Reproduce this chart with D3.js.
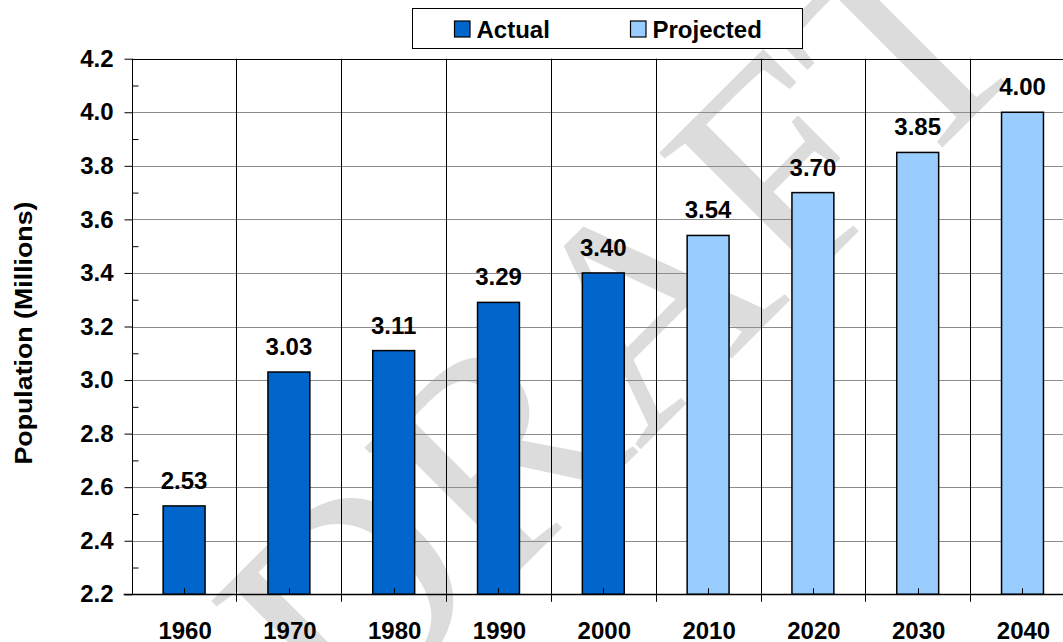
<!DOCTYPE html>
<html>
<head>
<meta charset="utf-8">
<script src="https://cdn.jsdelivr.net/npm/d3@7"></script>
<style>
  html, body { margin: 0; padding: 0; background: #fff; }
  svg text { font-family: "Liberation Sans", Arial, sans-serif; }
</style>
</head>
<body>
<div id="chart"></div>
<script>
// population, millions
var years = ["1960", "1970", "1980", "1990", "2000", "2010", "2020", "2030", "2040"];
var population = [2.53, 3.03, 3.11, 3.29, 3.40, 3.54, 3.70, 3.85, 4.00];
var kind = ["Actual", "Actual", "Actual", "Actual", "Actual", "Projected", "Projected", "Projected", "Projected"];
var seriesNames = ["Actual", "Projected"];
var yMajor = [2.2, 2.4, 2.6, 2.8, 3.0, 3.2, 3.4, 3.6, 3.8, 4.0, 4.2];
var yMinor = [2.3, 2.5, 2.7, 2.9, 3.1, 3.3, 3.5, 3.7, 3.9, 4.1];

var W = 1063, H = 642;
var plot = {left: 131.7, top: 58.7, bottom: 594.3, step: 104.8};
var colors = {Actual: "#0066cc", Projected: "#99ccff"};
var fs = "24px";

var svg = d3.select("#chart").append("svg")
    .attr("width", W).attr("height", H);

svg.append("rect").attr("width", W).attr("height", H).style("fill", "#fff");

// DRAFT watermark sits behind everything
svg.append("text")
    .attr("transform", "translate(344,746) rotate(-45)")
    .style("font-family", "Liberation Serif, Times New Roman, serif")
    .style("font-size", "300px")
    .style("fill", "#dcdcdc")
    .text("DRAFT");

var x = d3.scaleBand()
    .domain(years)
    .range([plot.left, plot.left + plot.step * years.length])
    .paddingInner(0).paddingOuter(0);

var y = d3.scaleLinear().domain([2.2, 4.2]).range([plot.bottom, plot.top]);

var plotRight = plot.left + plot.step * years.length;

// horizontal grid
svg.append("g").selectAll("line")
    .data(yMajor.slice(1, -1))
    .enter().append("line")
    .attr("x1", plot.left).attr("x2", plotRight)
    .attr("y1", function(d) { return Math.round(y(d)) + 0.5; })
    .attr("y2", function(d) { return Math.round(y(d)) + 0.5; })
    .style("stroke", "#8c8c8c").style("stroke-width", 1);

// top border
svg.append("line")
    .attr("x1", plot.left).attr("x2", plotRight)
    .attr("y1", Math.round(y(4.2)) + 0.5).attr("y2", Math.round(y(4.2)) + 0.5)
    .style("stroke", "#000");

// vertical grid at category boundaries, continuing below the axis as ticks
svg.append("g").selectAll("line")
    .data(years.slice(1))
    .enter().append("line")
    .attr("x1", function(d) { return Math.round(x(d)) + 0.5; })
    .attr("x2", function(d) { return Math.round(x(d)) + 0.5; })
    .attr("y1", y(4.2)).attr("y2", plot.bottom + 7.5)
    .style("stroke", "#000").style("stroke-width", 1);

// bars
var bw = x.bandwidth() * 0.4;
svg.append("g").selectAll("rect")
    .data(population)
    .enter().append("rect")
    .attr("x", function(d, i) { return x(years[i]) + (x.bandwidth() - bw) / 2; })
    .attr("y", function(d) { return y(d); })
    .attr("width", bw)
    .attr("height", function(d) { return y(2.2) - y(d); })
    .style("fill", function(d, i) { return colors[kind[i]]; })
    .style("stroke", "#000").style("stroke-width", 1.5);

// minor x ticks at category centres
svg.append("g").selectAll("line")
    .data(years)
    .enter().append("line")
    .attr("x1", function(d) { return Math.round(x(d) + x.bandwidth() / 2) + 0.5; })
    .attr("x2", function(d) { return Math.round(x(d) + x.bandwidth() / 2) + 0.5; })
    .attr("y1", plot.bottom - 6).attr("y2", plot.bottom)
    .style("stroke", "#000");

// value labels
svg.append("g").selectAll("text")
    .data(population)
    .enter().append("text")
    .attr("x", function(d, i) { return x(years[i]) + x.bandwidth() / 2; })
    .attr("y", function(d) { return y(d) - 17; })
    .attr("text-anchor", "middle")
    .style("font-size", fs).style("font-weight", "bold")
    .text(function(d) { return d3.format(".2f")(d); });

// y axis
var yAxis = d3.axisLeft(y).tickValues(yMajor).tickSize(8).tickPadding(11)
    .tickFormat(d3.format(".1f"));
var gy = svg.append("g").attr("transform", "translate(" + (Math.round(plot.left) + 0.5) + ",0)").call(yAxis);
gy.select(".domain").attr("d", "M0," + y(4.2) + "V" + y(2.2)).style("stroke", "#000");
gy.selectAll(".tick line").style("stroke", "#000");
gy.selectAll(".tick text")
    .style("font-family", "Liberation Sans, Arial, sans-serif")
    .style("font-size", fs).style("font-weight", "bold").style("fill", "#000");

var yMinorAxis = d3.axisLeft(y).tickValues(yMinor).tickSize(-6).tickFormat("");
var gym = svg.append("g").attr("transform", "translate(" + (Math.round(plot.left) + 0.5) + ",0)").call(yMinorAxis);
gym.select(".domain").remove();
gym.selectAll(".tick line").style("stroke", "#000");

// x axis line
svg.append("line")
    .attr("x1", plot.left - 8).attr("x2", plotRight)
    .attr("y1", Math.round(plot.bottom) + 0.5).attr("y2", Math.round(plot.bottom) + 0.5)
    .style("stroke", "#000").style("stroke-width", 1.5);

// x labels
svg.append("g").selectAll("text")
    .data(years)
    .enter().append("text")
    .attr("x", function(d) { return x(d) + x.bandwidth() / 2 + 1; })
    .attr("y", 638.5)
    .attr("text-anchor", "middle")
    .style("font-size", fs).style("font-weight", "bold")
    .text(function(d) { return d; });

// axis title
svg.append("text")
    .attr("transform", "translate(31.5,333) rotate(-90)")
    .attr("text-anchor", "middle")
    .attr("textLength", 263).attr("lengthAdjust", "spacingAndGlyphs")
    .style("font-size", "23px").style("font-weight", "bold")
    .text("Population (Millions)");

// legend
var legend = svg.append("g");
legend.append("rect")
    .attr("x", 412.5).attr("y", 8.5).attr("width", 390).attr("height", 40)
    .style("fill", "#fff").style("stroke", "#000");
var items = legend.selectAll(".item")
    .data(seriesNames)
    .enter().append("g").attr("class", "item")
    .attr("transform", function(d, i) { return "translate(" + [454, 630][i] + ",0)"; });
items.append("rect")
    .attr("x", 0.5).attr("y", 21).attr("width", 15.5).attr("height", 16)
    .style("fill", function(d) { return colors[d]; })
    .style("stroke", "#000").style("stroke-width", 1.2);
items.append("text")
    .attr("x", 22.5).attr("y", 37.7)
    .style("font-size", fs).style("font-weight", "bold")
    .text(function(d) { return d; });
</script>
</body>
</html>
